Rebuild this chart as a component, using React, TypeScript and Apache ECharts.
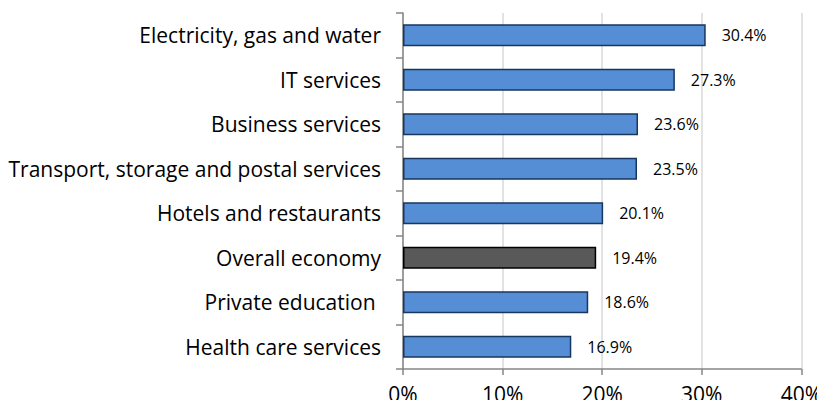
import React, { useEffect, useRef } from "react";
import * as echarts from "echarts";

const categories = [
  "Health care services",
  "Private education ",
  "Overall economy",
  "Hotels and restaurants",
  "Transport, storage and postal services",
  "Business services",
  "IT services",
  "Electricity, gas and water",
];
const values = [16.9, 18.6, 19.4, 20.1, 23.5, 23.6, 27.3, 30.4];
const highlight = "Overall economy";
const xTicks = [0, 10, 20, 30, 40];

export default function App() {
  const ref = useRef<HTMLDivElement>(null);
  useEffect(() => {
    if (!ref.current) return;
    const chart = echarts.init(ref.current, null, { renderer: "svg" });
    const font = "'Open Sans', 'Liberation Sans', sans-serif";
    chart.setOption({
      animation: false,
      grid: { left: 403, right: 23, top: 13, bottom: 39, containLabel: false },
      xAxis: {
        type: "value",
        min: xTicks[0],
        max: xTicks[xTicks.length - 1],
        interval: 10,
        axisLine: { show: true, lineStyle: { color: "#868686", width: 1.5 } },
        axisTick: { show: true, length: 6, lineStyle: { color: "#868686", width: 1.5 } },
        axisLabel: {
          formatter: (v: number) => v + "%",
          color: "#000",
          fontFamily: font,
          fontSize: 21,
          lineHeight: 18,
          margin: 16,
        },
        splitLine: { show: true, lineStyle: { color: "#d9d9d9", width: 1.5 } },
      },
      yAxis: {
        type: "category",
        data: categories,
        axisLine: { show: true, lineStyle: { color: "#868686", width: 1.5 } },
        axisTick: { show: true, length: 7, lineStyle: { color: "#868686", width: 1.5 } },
        axisLabel: {
          color: "#000",
          fontFamily: font,
          fontSize: 21,
          margin: 22,
        },
      },
      series: [
        {
          type: "bar",
          barWidth: 22,
          data: values.map((v, i) => ({
            value: v,
            itemStyle:
              categories[i] === highlight
                ? { color: "#595959", borderColor: "#000", borderWidth: 1.5 }
                : { color: "#558ed5", borderColor: "#17375e", borderWidth: 1.5 },
          })),
          label: {
            show: true,
            position: "right",
            distance: 16,
            formatter: (p: any) => p.value.toFixed(1) + "%",
            color: "#000",
            fontFamily: font,
            fontSize: 16,
          },
        },
      ],
    });
    return () => chart.dispose();
  }, []);
  return <div ref={ref} style={{ width: 825, height: 408, margin: -8 }} />;
}
